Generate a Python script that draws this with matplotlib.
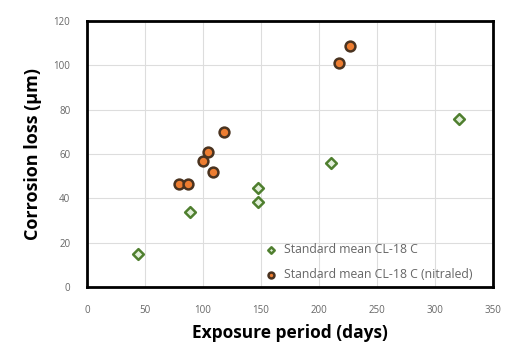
import matplotlib
matplotlib.use('Agg')
import matplotlib.pyplot as plt

plt.rcParams['font.family'] = ['Open Sans', 'DejaVu Sans']

# standard mean CL-18 C
days_std = [44, 89, 147, 147, 210, 321]
loss_std = [15, 34, 44.5, 38.5, 56, 76]

# standard mean CL-18 C (nitraled)
days_nit = [79, 87, 100, 104, 109, 118, 217, 227]
loss_nit = [46.5, 46.5, 57, 61, 52, 70, 101, 108.5]

xticks = [0, 50, 100, 150, 200, 250, 300, 350]
yticks = [0, 20, 40, 60, 80, 100, 120]

fig = plt.figure(figsize=(5.08, 3.53), dpi=100)
ax = fig.add_axes([87/508, 1 - 287/353, (493-87)/508, (287-21)/353])

ax.scatter(days_std, loss_std, marker='D', s=30, facecolor='#E2EFDA',
           edgecolor='#4F7F2F', linewidth=1.8, zorder=3,
           label='Standard mean CL-18 C')
ax.scatter(days_nit, loss_nit, marker='o', s=50, facecolor='#ED7D31',
           edgecolor='#4A3320', linewidth=1.8, zorder=3,
           label='Standard mean CL-18 C (nitraled)')

ax.set_xlim(0, 350)
ax.set_ylim(0, 120)
ax.set_xticks(xticks)
ax.set_yticks(yticks)
ax.tick_params(labelsize=7, colors='#666666', length=0)
ax.tick_params(axis='x', pad=13)
ax.tick_params(axis='y', pad=12)
ax.grid(color='#DDDDDD', linewidth=0.8)
ax.set_axisbelow(True)
for s in ax.spines.values():
    s.set_linewidth(2)
    s.set_color('black')

ax.set_xlabel('Exposure period (days)', fontsize=12.5, fontweight='bold', labelpad=6)
ax.set_ylabel('Corrosion loss (µm)', fontsize=13, fontweight='bold', labelpad=8)

ax.legend(loc='lower right', bbox_to_anchor=(0.965, 0.0), frameon=False,
          fontsize=8.8, handletextpad=0.1, markerscale=0.6, borderaxespad=0.1,
          labelspacing=0.95, labelcolor='#666666')

fig.savefig('out.png', dpi=100)
